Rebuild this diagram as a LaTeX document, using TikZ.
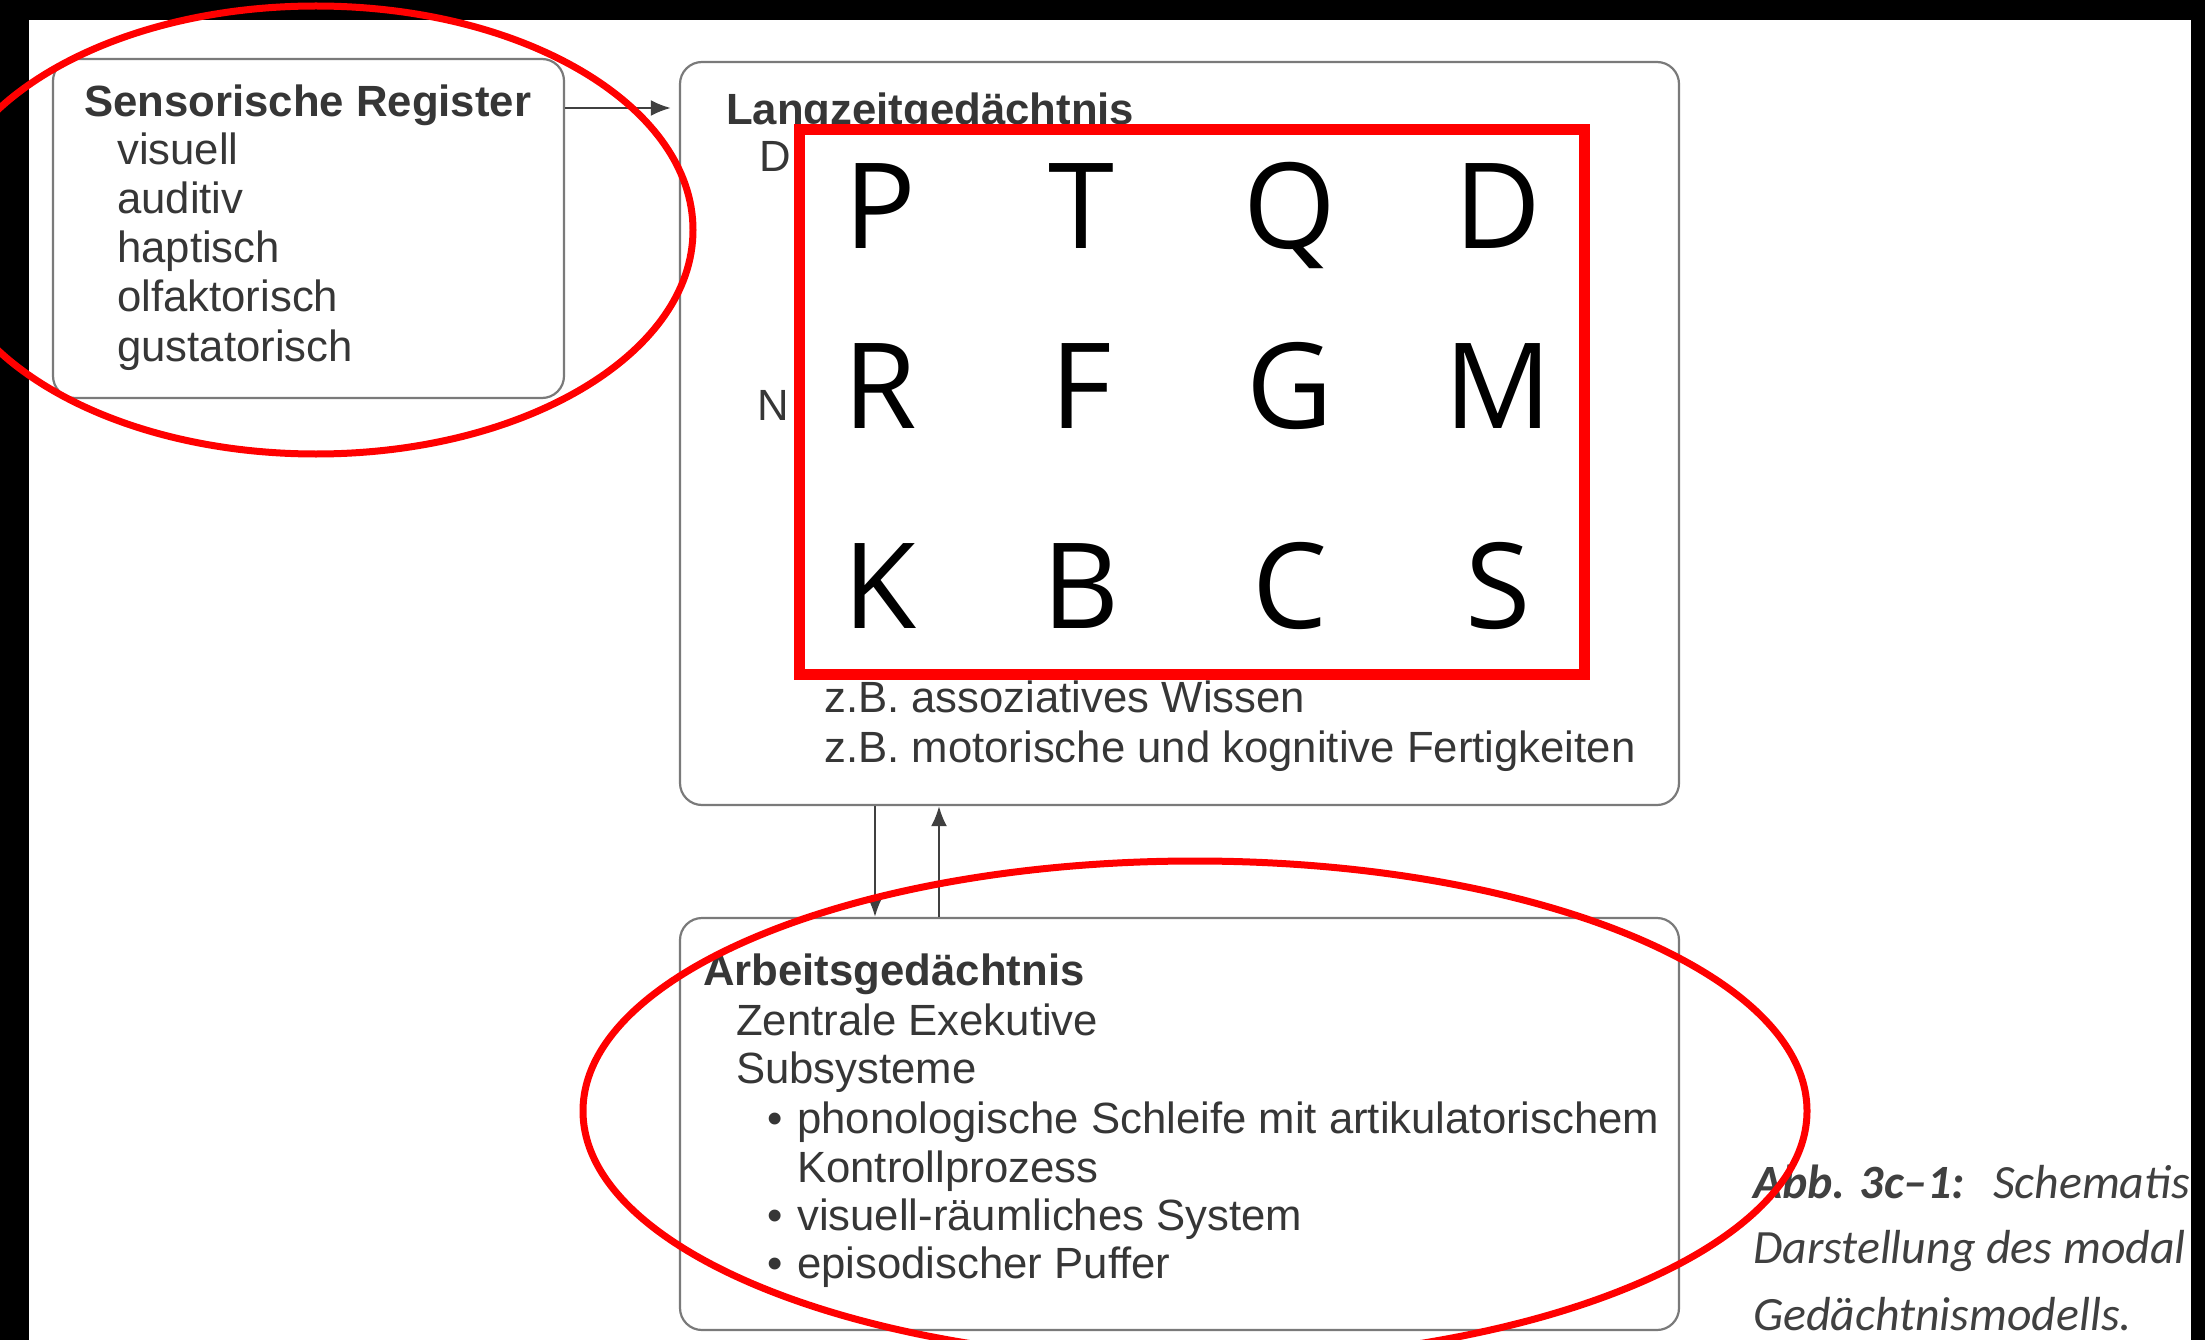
\documentclass[tikz,border=0pt]{standalone}
\usepackage{fontspec}
\setmainfont{Liberation Sans}
\newfontfamily\letterfont{Open Sans}
\newfontfamily\capfont{Carlito}
\usetikzlibrary{arrows.meta, positioning}
\definecolor{scanink}{HTML}{363636}
\definecolor{scanline}{HTML}{7A7A7A}
\definecolor{pen}{HTML}{FF0000}

\begin{document}
\begin{tikzpicture}[x=1pt, y=-1pt,
    mem/.style={draw=scanline, line width=2.2pt, rounded corners=22pt, inner sep=0pt},
    head/.style={anchor=base west, inner sep=0pt, text=scanink, font=\fontsize{43.7}{49}\selectfont\bfseries},
    item/.style={anchor=base west, inner sep=0pt, text=scanink, font=\fontsize{43.7}{49}\selectfont},
    redbox/.style={draw=pen, fill=white, line width=11pt, inner sep=0pt},
    letter/.style={anchor=base, inner sep=0pt, font=\fontsize{119}{122}\letterfont},
    note/.style={anchor=base west, inner sep=0pt, text=black!75, font=\fontsize{47.8}{65}\capfont\itshape},
    arrow/.style={-{Latex[length=20pt, width=16pt]}, draw=black!75, line width=2.5pt},
    ring/.style={draw=pen, line width=7pt}
]
\useasboundingbox (0,0) rectangle (2205,1340);
\clip (0,0) rectangle (2205,1340);
\fill[white] (0,0) rectangle (2205,1340);
\fill[black] (0,0) rectangle (2205,20);
\fill[black] (0,0) rectangle (29,1340);

% Sensorische Register
\node[mem, minimum width=511pt, minimum height=339pt] (sens) at (308.5,228.5) {};
\node[head] (sensT) at (84,117) {Sensorische Register};
\node[item] (vis) at (117,165) {visuell};
\node[item] (aud) at (117,214) {auditiv};
\node[item] (hap) at (117,263) {haptisch};
\node[item] (olf) at (117,312) {olfaktorisch};
\node[item] (gus) at (117,361) {gustatorisch};

% Langzeitgedaechtnis
\node[mem, minimum width=999pt, minimum height=743pt] (lang) at (1179.5,433.5) {};
\node[head] (langT) at (726,125) {Langzeitgedächtnis};
\node[item] (dekl) at (759,172) {D};
\node[item] (nondekl) at (757,420) {N};
\node[item] (assoz) at (824,712) {z.B. assoziatives Wissen};
\node[item] (motor) at (824,762) {z.B. motorische und kognitive Fertigkeiten};

% Arbeitsgedaechtnis
\node[mem, minimum width=999pt, minimum height=412pt] (arb) at (1179.5,1124) {};
\node[head] (arbT) at (703,985) {Arbeitsgedächtnis};
\node[item] (zent) at (736,1035) {Zentrale Exekutive};
\node[item] (subs) at (736,1083) {Subsysteme};
\node[item] (phon) at (767,1133) {\makebox[30pt][l]{•}phonologische Schleife mit artikulatorischem};
\node[item] (kont) at (797,1182) {Kontrollprozess};
\node[item] (visr) at (767,1230) {\makebox[30pt][l]{•}visuell-räumliches System};
\node[item] (epis) at (767,1278) {\makebox[30pt][l]{•}episodischer Puffer};

% Arrows
\coordinate (sensout) at (0,108);
\coordinate (downx) at (875,0);
\coordinate (upx) at (939,0);
\draw[arrow, shorten >=8pt] (sens.east |- sensout) -- (lang.west |- sensout);
\draw[arrow] (lang.south -| downx) -- (arb.north -| downx);
\draw[arrow] (arb.north -| upx) -- (lang.south -| upx);

% Caption
\node[note] (capA) at (1753,1198) {\bfseries Abb. 3c–1:};
\node[note] (capB) at (1993,1198) {Schematis};
\node[note] (capC) at (1753,1263) {Darstellung des modal};
\node[note] (capD) at (1753,1330) {Gedächtnismodells.};
\fill[black] (2191,0) rectangle (2205,1340);

% Letter grid
\node[redbox, minimum width=785pt, minimum height=544pt] (grid) at (1191.5,402) {};
\node[letter] (lP) at (880,249) {P};
\node[letter] (lT) at (1081,249) {T};
\node[letter] (lQ) at (1290,249) {Q};
\node[letter] (lD) at (1498,249) {D};
\node[letter] (lR) at (880,428) {R};
\node[letter] (lF) at (1081,428) {F};
\node[letter] (lG) at (1290,428) {G};
\node[letter] (lM) at (1498,428) {M};
\node[letter] (lK) at (880,628) {K};
\node[letter] (lB) at (1081,628) {B};
\node[letter] (lC) at (1290,628) {C};
\node[letter] (lS) at (1498,628) {S};

% Red rings
\draw[ring] (316,230) ellipse [x radius=377pt, y radius=224pt];
\draw[ring] (1195,1111) ellipse [x radius=612pt, y radius=250pt];
\end{tikzpicture}
\end{document}
